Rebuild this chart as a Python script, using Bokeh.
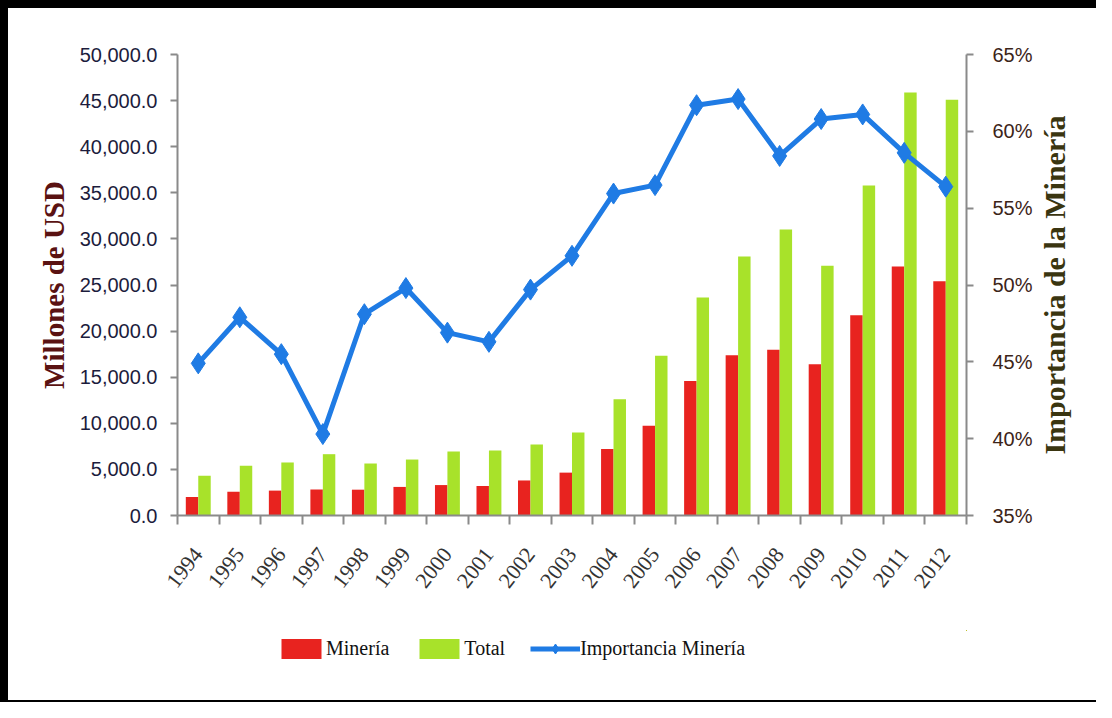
import numpy as np
from bokeh.plotting import figure
from bokeh.layouts import gridplot
from bokeh.models import (Range1d, LinearAxis, FixedTicker, NumeralTickFormatter,
                          PrintfTickFormatter, Legend, LegendItem, ColumnDataSource)
from bokeh.core.properties import value
from bokeh.transform import dodge
from bokeh.embed import file_html
from bokeh.resources import INLINE

years = ["1994", "1995", "1996", "1997", "1998", "1999", "2000", "2001", "2002", "2003",
         "2004", "2005", "2006", "2007", "2008", "2009", "2010", "2011", "2012"]
mineria = [2000, 2570, 2700, 2820, 2800, 3100, 3300, 3200, 3800, 4650,
           7200, 9730, 14600, 17390, 17970, 16400, 21720, 27000, 25400]
total = [4300, 5390, 5750, 6650, 5640, 6070, 6940, 7050, 7700, 9000,
         12610, 17320, 23640, 28090, 31020, 27100, 35800, 45880, 45090]
importancia = [44.9, 47.9, 45.5, 40.3, 48.1, 49.8, 46.9, 46.3, 49.7, 51.9,
               55.95, 56.5, 61.7, 62.1, 58.4, 60.8, 61.1, 58.6, 56.4]
left_ticks = [0, 5000, 10000, 15000, 20000, 25000, 30000, 35000, 40000, 45000, 50000]
right_ticks = [35, 40, 45, 50, 55, 60, 65]
series_names = ["Minería", "Total", "Importancia Minería"]
left_title = "Millones de USD"
right_title = "Importancia de la Minería"

n = len(years)
xc = [i + 0.5 for i in range(n)]
cds = ColumnDataSource(dict(x=xc, mineria=mineria, total=total, imp=importancia))

RED = "#e8231f"
GREEN = "#a8e22a"
BLUE = "#1f7be4"
AXIS = "#8a8a8a"


def draw_series(fig):
    rm = fig.vbar(x=dodge("x", -0.15), top="mineria", width=0.3, source=cds,
                  fill_color=RED, line_color=None)
    rt = fig.vbar(x=dodge("x", 0.15), top="total", width=0.3, source=cds,
                  fill_color=GREEN, line_color=None)
    rl = fig.line(x="x", y="imp", source=cds, y_range_name="pct", line_color=BLUE, line_width=5)
    rs = fig.scatter(x="x", y="imp", source=cds, y_range_name="pct", marker="diamond",
                     size=21, fill_color=BLUE, line_color=BLUE)
    return rm, rt, rl, rs


W_MAIN = 1035
p = figure(width=W_MAIN, height=630, output_backend="svg", toolbar_location=None,
           x_range=Range1d(0, n), y_range=Range1d(0, 50000),
           min_border_left=177, min_border_right=68, min_border_top=54, min_border_bottom=115)
p.outline_line_color = None
p.xgrid.visible = False
p.ygrid.visible = False
p.border_fill_color = None
p.background_fill_color = "white"
p.extra_y_ranges = {"pct": Range1d(35, 65)}
draw_series(p)

# bottom axis
xa = p.xaxis[0]
xa.ticker = FixedTicker(ticks=xc, minor_ticks=list(range(n + 1)))
xa.major_label_overrides = {x: y for x, y in zip(xc, years)}
xa.major_label_orientation = float(np.radians(52))
xa.major_tick_out = 0
xa.major_tick_in = 0
xa.minor_tick_out = 9
xa.minor_tick_in = 0
xa.minor_tick_line_color = AXIS
xa.minor_tick_line_width = 2
xa.axis_line_color = AXIS
xa.axis_line_width = 2
xa.major_label_standoff = 26
xa.major_label_text_font = "Liberation Serif"
xa.major_label_text_font_size = "22px"
xa.major_label_text_color = "#333333"

# left axis
ya = p.yaxis[0]
ya.ticker = FixedTicker(ticks=left_ticks)
ya.formatter = NumeralTickFormatter(format="0,0.0")
ya.major_tick_out = 7
ya.major_tick_in = 0
ya.minor_tick_line_color = None
ya.major_tick_line_color = AXIS
ya.major_tick_line_width = 2
ya.axis_line_color = AXIS
ya.axis_line_width = 2
ya.major_label_standoff = 13
ya.major_label_text_font = "Liberation Sans"
ya.major_label_text_font_size = "20px"
ya.major_label_text_color = "#1c1c3c"
ya.axis_label = left_title
ya.axis_label_text_font = "Liberation Serif"
ya.axis_label_text_font_style = "bold"
ya.axis_label_text_font_size = "29px"
ya.axis_label_text_color = "#5a1212"
ya.axis_label_standoff = 7

# right axis
ra = LinearAxis(y_range_name="pct", ticker=FixedTicker(ticks=right_ticks),
                formatter=PrintfTickFormatter(format="%d%%"))
ra.major_tick_out = 7
ra.major_tick_in = 0
ra.minor_tick_line_color = None
ra.major_tick_line_color = AXIS
ra.major_tick_line_width = 2
ra.axis_line_color = AXIS
ra.axis_line_width = 2
ra.major_label_standoff = 19
ra.major_label_text_font = "Liberation Sans"
ra.major_label_text_font_size = "20px"
ra.major_label_text_color = "#3c2418"
p.add_layout(ra, "right")

# right title strip (reads bottom to top)
r = figure(width=61, height=630, output_backend="svg", toolbar_location=None,
           x_range=Range1d(0, 1), y_range=Range1d(35, 65),
           min_border_left=0, min_border_right=0, min_border_top=0, min_border_bottom=0)
r.axis.visible = False
r.grid.visible = False
r.outline_line_color = None
r.border_fill_color = None
r.background_fill_color = None
r.text(x=[0.31], y=[50], text=[right_title], angle=np.pi / 2,
       text_align="center", text_baseline="middle",
       text_font=value("Liberation Serif"), text_font_style="bold",
       text_font_size="30px", text_color="#3a3510")

# legend strip (own small figure so the legend is not clipped by the main frame)
q = figure(width=W_MAIN, height=72, output_backend="svg", toolbar_location=None,
           x_range=Range1d(-10, -9), y_range=Range1d(-10, -9),
           min_border_left=0, min_border_right=0, min_border_top=0, min_border_bottom=0)
q.axis.visible = False
q.grid.visible = False
q.outline_line_color = None
q.border_fill_color = None
q.background_fill_color = None
q.extra_y_ranges = {"pct": Range1d(-10, -9)}
l_min, l_tot, l_line, l_mark = draw_series(q)
legend = Legend(items=[LegendItem(label=series_names[0], renderers=[l_min]),
                       LegendItem(label=series_names[1], renderers=[l_tot]),
                       LegendItem(label=series_names[2], renderers=[l_line, l_mark])],
                orientation="horizontal", location=(99, 41),
                glyph_width=50, glyph_height=25, label_standoff=0, spacing=25,
                padding=0, margin=0, border_line_color=None, background_fill_alpha=0,
                label_text_font="Liberation Serif", label_text_font_size="20px",
                label_text_color="#111111", label_height=20)
q.add_layout(legend)

grid = gridplot([[p, r], [q, None]], toolbar_location=None)
grid.styles = {"box-shadow": "inset 8px 8px 0 0 #000, inset 0 -2px 0 0 #000"}

open("out.html", "w").write(file_html(grid, INLINE))
